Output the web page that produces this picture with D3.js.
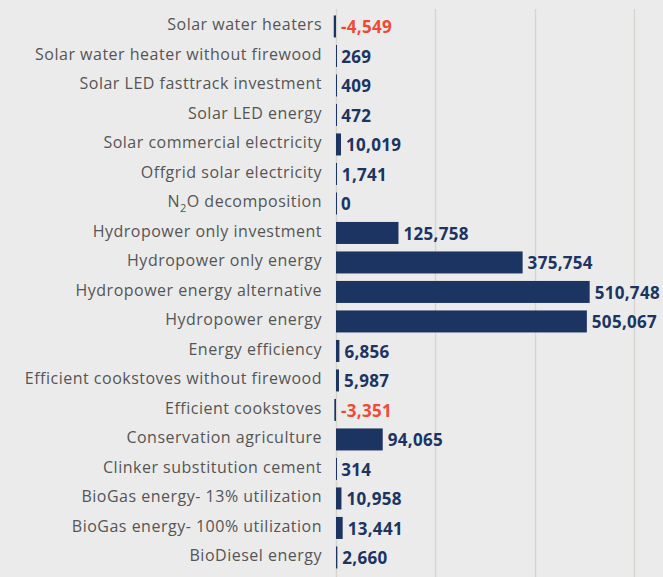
<html>
<head>
<meta charset="utf-8">
<script src="https://d3js.org/d3.v7.min.js"></script>
<style>
    body { margin: 0; background: #ebebeb; }
    svg { display: block; background: #ebebeb; }
    .cat { font-family: "Open Sans", sans-serif; font-size: 16px; letter-spacing: 0.5px; fill: #555; }
    .val { font-family: "Open Sans", sans-serif; font-size: 17px; letter-spacing: 0.3px; font-weight: 700; }
</style>
</head>
<body>
<svg id="the-chart" width="663" height="577"></svg>
<script>
    var categories = [
        'Solar water heaters',
        'Solar water heater without firewood',
        'Solar LED fasttrack investment',
        'Solar LED energy',
        'Solar commercial electricity',
        'Offgrid solar electricity',
        'N2O decomposition',
        'Hydropower only investment',
        'Hydropower only energy',
        'Hydropower energy alternative',
        'Hydropower energy',
        'Energy efficiency',
        'Efficient cookstoves without firewood',
        'Efficient cookstoves',
        'Conservation agriculture',
        'Clinker substitution cement',
        'BioGas energy- 13% utilization',
        'BioGas energy- 100% utilization',
        'BioDiesel energy'
    ];
    var values = [-4549, 269, 409, 472, 10019, 1741, 0, 125758, 375754, 510748, 505067,
                  6856, 5987, -3351, 94065, 314, 10958, 13441, 2660];
    var gridTicks = [0, 200000, 400000, 600000];

    var svg = d3.select('#the-chart');
    var x = d3.scaleLinear().domain([0, 600000]).range([336, 634]);
    var y = d3.scaleBand().domain(categories).range([12.5, 571.4]).paddingInner(0.254).paddingOuter(0.1);

    // grid
    svg.append('g').selectAll('line')
        .data(gridTicks)
        .enter().append('line')
        .attr('x1', function(d) { return Math.round(x(d)) + 0.5; })
        .attr('x2', function(d) { return Math.round(x(d)) + 0.5; })
        .attr('y1', 9)
        .attr('y2', 577)
        .attr('stroke', '#d6d6ce')
        .attr('stroke-width', 1.5);

    var rows = svg.append('g').selectAll('g')
        .data(categories)
        .enter().append('g');

    rows.append('rect')
        .attr('x', function(d, i) { return values[i] < 0 ? x(values[i]) : x(0); })
        .attr('y', function(d) { return y(d); })
        .attr('width', function(d, i) { return Math.max(1, Math.abs(x(values[i]) - x(0))); })
        .attr('height', y.bandwidth())
        .attr('fill', '#1b3462');

    var cat = rows.append('text')
        .attr('class', 'cat')
        .attr('x', 322)
        .attr('y', function(d) { return y(d) + y.bandwidth() / 2; })
        .attr('dy', '0.24em')
        .attr('text-anchor', 'end');
    cat.each(function(d) {
        var t = d3.select(this);
        if (d === 'N2O decomposition') {
            t.append('tspan').text('N');
            t.append('tspan').text('2').attr('font-size', '11px').attr('dy', '5');
            t.append('tspan').text('O decomposition').attr('dy', '-5');
        } else {
            t.text(d);
        }
    });

    var fmt = function(v) { return (v < 0 ? '-' : '') + d3.format(',')(Math.abs(v)); };

    rows.append('text')
        .attr('class', 'val')
        .attr('x', function(d, i) { return Math.max(x(0), x(values[i])) + 5; })
        .attr('y', function(d) { return y(d) + y.bandwidth() / 2; })
        .attr('dy', '0.4em')
        .attr('fill', function(d, i) { return values[i] < 0 ? '#ee4a34' : '#1b3462'; })
        .text(function(d, i) { return fmt(values[i]); });
</script>
</body>
</html>
